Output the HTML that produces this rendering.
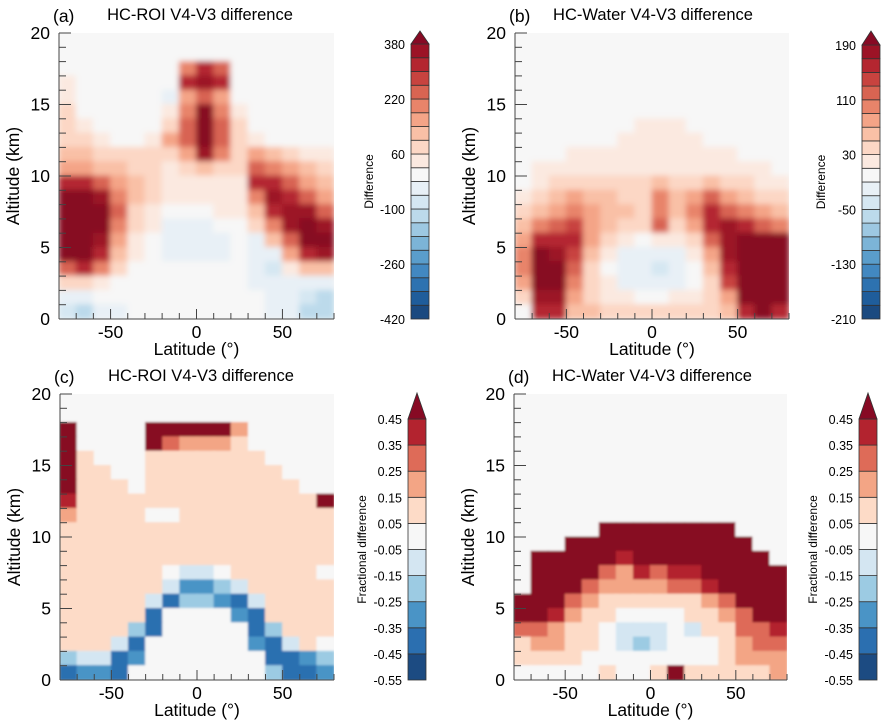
<!DOCTYPE html>
<html><head><meta charset="utf-8"><style>
html,body{margin:0;padding:0;background:#fff;}
svg{display:block;font-family:"Liberation Sans",sans-serif;}
</style></head><body>
<svg id="fig" width="889" height="727" viewBox="0 0 889 727" xmlns="http://www.w3.org/2000/svg">
<defs>
<filter id="soft" x="0" y="0" width="1" height="1"><feGaussianBlur stdDeviation="3"/></filter>
<filter id="soft2" x="0" y="0" width="1" height="1"><feGaussianBlur stdDeviation="1"/></filter>
</defs>
</svg>
<script>
// ---- data (rows: altitude 19.5 km at top down to 0.5 km; columns: latitude -75..75 step 10) ----
const latitudes=[-75,-65,-55,-45,-35,-25,-15,-5,5,15,25,35,45,55,65,75];
const altitudes=[19.5,18.5,17.5,16.5,15.5,14.5,13.5,12.5,11.5,10.5,9.5,8.5,7.5,6.5,5.5,4.5,3.5,2.5,1.5,0.5];
const xTicks=[-50,0,50];
const yTicks=[0,5,10,15,20];
const cbarTicksA=[380,220,60,-100,-260,-420];
const cbarTicksB=[190,110,30,-50,-130,-210];
const cbarTicksFrac=[0.45,0.35,0.25,0.15,0.05,-0.05,-0.15,-0.25,-0.35,-0.45,-0.55];
const valuesA=[
[0,0,0,0,0,0,0,0,0,0,0,0,0,0,0,0],
[0,0,0,0,0,0,0,0,0,0,0,0,0,0,0,0],
[0,0,0,0,0,0,0,200,300,250,0,0,0,0,0,0],
[40,0,0,0,0,0,0,300,350,300,0,0,0,0,0,0],
[40,0,0,0,0,0,-30,150,250,150,0,0,0,0,0,0],
[60,0,0,0,0,0,40,200,400,200,40,0,0,0,0,0],
[80,40,0,0,0,0,80,250,450,250,60,0,0,0,0,0],
[80,60,40,0,0,40,150,250,450,250,80,40,0,0,0,0],
[120,100,80,60,60,60,80,150,350,200,80,150,100,60,40,40],
[150,150,120,100,80,60,40,60,100,80,60,250,200,150,100,60],
[300,300,250,150,100,60,40,40,40,40,40,300,300,250,150,100],
[450,450,350,200,100,60,30,20,30,30,40,200,350,300,250,150],
[450,450,400,250,80,40,0,0,0,20,20,100,300,350,350,250],
[450,450,400,200,60,30,-30,-30,-30,0,0,60,200,350,400,350],
[450,450,350,150,40,0,-40,-40,-40,-30,-20,-30,100,250,400,400],
[400,450,300,100,20,0,-40,-40,-30,-30,-20,-40,-30,150,300,350],
[250,300,200,60,0,0,0,0,0,0,0,-40,-80,40,100,100],
[60,80,40,0,0,0,0,0,0,0,0,-30,-40,-30,-30,-40],
[-60,-40,-20,-20,-20,-20,-20,0,0,0,0,-20,-40,-60,-100,-120],
[-100,-120,-60,-30,0,0,0,0,0,0,0,-20,-40,-60,-120,-140]];
const valuesB=[
[0,0,0,0,0,0,0,0,0,0,0,0,0,0,0,0],
[0,0,0,0,0,0,0,0,0,0,0,0,0,0,0,0],
[0,0,0,0,0,0,0,0,0,0,0,0,0,0,0,0],
[0,0,0,0,0,0,0,0,0,0,0,0,0,0,0,0],
[0,0,0,0,0,0,0,0,0,0,0,0,0,0,0,0],
[0,0,0,0,0,0,0,0,0,0,0,0,0,0,0,0],
[0,0,0,0,0,0,0,15,15,15,0,0,0,0,0,0],
[0,0,0,0,0,0,15,15,15,15,15,0,0,0,0,0],
[0,0,0,15,15,15,15,15,15,15,15,15,15,0,0,0],
[0,15,15,20,20,20,20,20,20,20,20,20,20,20,15,0],
[0,20,30,40,30,30,30,30,50,30,40,50,40,30,20,15],
[20,40,50,70,50,50,40,40,90,50,80,110,70,50,40,30],
[40,60,80,100,70,60,50,40,100,60,100,150,120,90,70,60],
[60,100,110,130,80,50,30,30,110,40,80,150,170,150,120,100],
[80,150,150,150,70,30,10,0,20,10,40,110,180,200,200,200],
[100,200,180,130,60,10,-20,-20,-15,-15,10,70,170,200,200,200],
[100,200,200,120,40,0,-30,-30,-40,-30,0,50,150,200,200,200],
[80,200,200,100,30,10,-20,-20,-30,-20,0,40,130,200,200,200],
[40,180,180,80,40,20,10,0,0,10,10,30,80,200,200,200],
[0,150,150,60,60,40,40,40,30,30,30,40,60,150,200,150]];
const valuesC=[
[0,0,0,0,0,0,0,0,0,0,0,0,0,0,0,0],
[0,0,0,0,0,0,0,0,0,0,0,0,0,0,0,0],
[0.5,0,0,0,0,0.5,0.5,0.5,0.5,0.5,0.2,0,0,0,0,0],
[0.5,0,0,0,0,0.5,0.3,0.2,0.2,0.2,0.1,0,0,0,0,0],
[0.5,0.1,0,0,0,0.1,0.1,0.1,0.1,0.1,0.1,0.1,0,0,0,0],
[0.5,0.1,0.1,0,0,0.1,0.1,0.1,0.1,0.1,0.1,0.1,0.1,0,0,0],
[0.5,0.1,0.1,0.1,0,0.1,0.1,0.1,0.1,0.1,0.1,0.1,0.1,0.1,0,0],
[0.4,0.1,0.1,0.1,0.1,0.1,0.1,0.1,0.1,0.1,0.1,0.1,0.1,0.1,0.1,0.5],
[0.2,0.1,0.1,0.1,0.1,0,0,0.1,0.1,0.1,0.1,0.1,0.1,0.1,0.1,0.1],
[0.1,0.1,0.1,0.1,0.1,0.1,0.1,0.1,0.1,0.1,0.1,0.1,0.1,0.1,0.1,0.1],
[0.1,0.1,0.1,0.1,0.1,0.1,0.1,0.1,0.1,0.1,0.1,0.1,0.1,0.1,0.1,0.1],
[0.1,0.1,0.1,0.1,0.1,0.1,0.1,0.1,0.1,0.1,0.1,0.1,0.1,0.1,0.1,0.1],
[0.1,0.1,0.1,0.1,0.1,0.1,0,-0.1,-0.1,0,0.1,0.1,0.1,0.1,0.1,0],
[0.1,0.1,0.1,0.1,0.1,0.1,-0.1,-0.3,-0.3,-0.2,-0.1,0.1,0.1,0.1,0.1,0.1],
[0.1,0.1,0.1,0.1,0.1,-0.1,-0.4,-0.2,-0.2,-0.3,-0.4,-0.1,0.1,0.1,0.1,0.1],
[0.1,0.1,0.1,0.1,0.1,-0.4,0,0,0,0,-0.3,-0.4,0.1,0.1,0.1,0.1],
[0.1,0.1,0.1,0.1,-0.2,-0.4,0,0,0,0,0,-0.4,-0.2,0.1,0.1,0.1],
[0.1,0.1,0.1,-0.1,-0.4,0,0,0,0,0,0,-0.3,-0.4,-0.1,0.1,0],
[-0.2,-0.1,-0.1,-0.4,-0.3,0,0,0,0,0,0,0,-0.4,-0.4,-0.3,-0.2],
[-0.4,-0.3,-0.3,-0.4,0,0,0,0,0,0,0,0,-0.2,-0.4,-0.4,-0.3]];
const valuesD=[
[0,0,0,0,0,0,0,0,0,0,0,0,0,0,0,0],
[0,0,0,0,0,0,0,0,0,0,0,0,0,0,0,0],
[0,0,0,0,0,0,0,0,0,0,0,0,0,0,0,0],
[0,0,0,0,0,0,0,0,0,0,0,0,0,0,0,0],
[0,0,0,0,0,0,0,0,0,0,0,0,0,0,0,0],
[0,0,0,0,0,0,0,0,0,0,0,0,0,0,0,0],
[0,0,0,0,0,0,0,0,0,0,0,0,0,0,0,0],
[0,0,0,0,0,0,0,0,0,0,0,0,0,0,0,0],
[0,0,0,0,0,0,0,0,0,0,0,0,0,0,0,0],
[0,0,0,0,0,0.5,0.5,0.5,0.5,0.5,0.5,0.5,0.5,0,0,0],
[0,0,0,0.5,0.5,0.5,0.5,0.5,0.5,0.5,0.5,0.5,0.5,0.5,0,0],
[0,0.5,0.5,0.5,0.5,0.5,0.4,0.5,0.5,0.5,0.5,0.5,0.5,0.5,0.5,0],
[0,0.5,0.5,0.5,0.5,0.3,0.2,0.4,0.3,0.4,0.4,0.5,0.5,0.5,0.5,0.5],
[0,0.5,0.5,0.5,0.3,0.2,0.2,0.2,0.2,0.3,0.3,0.4,0.5,0.5,0.5,0.5],
[0.5,0.5,0.5,0.3,0.2,0.1,0.1,0.1,0.1,0.1,0.1,0.2,0.3,0.5,0.5,0.5],
[0.5,0.5,0.4,0.2,0.1,0.1,0,0,0,0,0.1,0.1,0.2,0.3,0.5,0.5],
[0.3,0.3,0.2,0.1,0.1,0,-0.1,-0.1,-0.1,0,-0.1,0.1,0.1,0.3,0.3,0.4],
[0.1,0.2,0.2,0.1,0.1,0,-0.1,-0.2,-0.1,0,0,0,0.1,0.2,0.3,0.3],
[0.1,0.1,0.1,0.1,0,0,0,0,0,0,0,0,0.1,0.2,0.2,0.2],
[0,0,0,0,0,0.1,0,0,0.1,0.5,0.1,0.1,0.1,0.1,0.1,0.2]];

// ---- palettes ----
const pal20=["#1b4a80","#1f5d9b","#2d72b0","#4288c1","#5a9dcb","#7cb4d7","#9dc8e2","#bcdaeb","#d5e7f2","#e8f0f6",
             "#f7f7f7","#fbe9e0","#fcd7c5","#f9c0a6","#f4a487","#e8846a","#d86452","#c8433f","#b42630","#9c1326"];
const pal10=["#1c4b82","#2b6fb0","#4a94c6","#9ccbe3","#d4e6f2","#f7f7f7","#fddbc7","#f3a585","#de6b58","#b3232f"];
const overColor="#870a24";
const NS="http://www.w3.org/2000/svg";
const svg=document.getElementById('fig');
function el(tag,attrs,parent){const e=document.createElementNS(NS,tag);for(const k in attrs)e.setAttribute(k,attrs[k]);(parent||svg).appendChild(e);return e;}
function txt(s,attrs,parent){const e=el('text',attrs,parent);e.textContent=s;return e;}

function colorFor(v,min,step,pal){
  const i=Math.floor((v-min)/step+1e-9);
  if(i>=pal.length) return overColor;
  if(i<0) return pal[0];
  return pal[i];
}

function drawPanel(cfg){
  const g=el('g',{});
  
  
  const {L,R,T,B}=cfg;
  const xs=lat=>L+(lat+80)/160*(R-L);
  const ys=alt=>B-alt/20*(B-T);
  const clipId='clip-'+cfg.name;
  const cp=el('clipPath',{id:clipId},g);
  el('rect',{x:L,y:T,width:R-L,height:B-T},cp);
  const bg=el('rect',{x:L,y:T,width:R-L,height:B-T,fill:'#f7f7f7'},g);
  
  
  const hg=el('g',{'clip-path':'url(#'+clipId+')'},g);
  const inner=el('g',{filter:cfg.blur},hg);
  
  
  cfg.data.forEach((row,ri)=>{
    row.forEach((v,ci)=>{
      const x0=xs(latitudes[ci]-5),x1=xs(latitudes[ci]+5);
      const y0=ys(altitudes[ri]+0.5),y1=ys(altitudes[ri]-0.5);
      const c=colorFor(v,cfg.cmin,cfg.cstep,cfg.pal);
      const r=el('rect',{x:x0-0.5,y:y0-0.5,width:x1-x0+1,height:y1-y0+1,fill:c},inner);
      
      
    });
  });
  const ax=el('g',{stroke:'#444','stroke-width':1,fill:'none'},g);
  
  
  el('line',{x1:L,y1:T,x2:L,y2:B},ax);
  el('line',{x1:L,y1:B,x2:R,y2:B},ax);
  for(let a=0;a<=20;a++){const y=ys(a);el('line',{x1:L,y1:y,x2:L+(a%5===0?12:7),y2:y},ax);}
  for(let lat=-80;lat<=80;lat+=10){const x=xs(lat);el('line',{x1:x,y1:B,x2:x,y2:B-(lat%50===0?10:6)},ax);}
  yTicks.forEach(t=>{const e=txt(String(t),{x:L-9,y:ys(t)+6,'font-size':17.5,'text-anchor':'end',fill:'#000'},g);
    });
  xTicks.forEach(t=>{const e=txt(String(t),{x:xs(t),y:B+19,'font-size':17.5,'text-anchor':'middle',fill:'#000'},g);
    });
  const xt=txt('Latitude (°)',{x:(L+R)/2,y:B+36,'font-size':17.5,'text-anchor':'middle'},g);
  
  const yt=txt('Altitude (km)',{x:0,y:0,'font-size':17.5,'text-anchor':'middle',transform:`translate(${L-40},${(T+B)/2}) rotate(-90)`},g);
  
  const pl=txt(cfg.letter,{x:L-6,y:T-11,'font-size':17.5},g);
  
  const ti=txt(cfg.title,{x:cfg.titleX,y:T-13,'font-size':16.5,'text-anchor':'middle'},g);
  
  const cb=el('g',{},g);
  
  
  const {cx0,cx1,cTop,cBot,cTip}=cfg;
  const n=cfg.pal.length, h=(cBot-cTop)/n;
  for(let i=0;i<n;i++){
    const r=el('rect',{x:cx0,y:cBot-(i+1)*h,width:cx1-cx0,height:h,fill:cfg.pal[i],stroke:'#333','stroke-width':0.8},cb);
    
  }
  const tri=el('polygon',{points:`${cx0},${cTop} ${cx1},${cTop} ${(cx0+cx1)/2},${cTip}`,fill:overColor,stroke:'#333','stroke-width':0.8},cb);
  
  const ticks=cfg.cticks, span=ticks[0]-ticks[ticks.length-1];
  ticks.forEach(t=>{
    const y=cBot-(t-ticks[ticks.length-1])/span*(cBot-cTop);
    const e=txt(String(t),{x:cx0-6,y:y+5,'font-size':cfg.cfs,'text-anchor':'end'},cb);
    
  });
  const ct=txt(cfg.clabel,{x:0,y:0,'font-size':12,'text-anchor':'middle',transform:`translate(${cfg.clx},${(cTop+cBot)/2}) rotate(-90)`},cb);
  
}

drawPanel({name:'panel-a',letter:'(a)',title:'HC-ROI V4-V3 difference',titleX:200,L:59,R:334,T:33,B:319,data:valuesA,
  cmin:-420,cstep:40,pal:pal20,blur:'url(#soft)',cx0:411,cx1:429,cTop:44,cBot:319,cTip:31,cticks:cbarTicksA,cfs:12.5,clabel:'Difference',clx:373});
drawPanel({name:'panel-b',letter:'(b)',title:'HC-Water V4-V3 difference',titleX:653,L:515,R:789,T:33,B:319,data:valuesB,
  cmin:-210,cstep:20,pal:pal20,blur:'url(#soft)',cx0:862,cx1:880,cTop:45,cBot:319,cTip:31,cticks:cbarTicksB,cfs:12.5,clabel:'Difference',clx:825});
drawPanel({name:'panel-c',letter:'(c)',title:'HC-ROI V4-V3 difference',titleX:201,L:60,R:334,T:394,B:680,data:valuesC,
  cmin:-0.55,cstep:0.1,pal:pal10,blur:'url(#soft2)',cx0:408,cx1:426,cTop:419,cBot:680,cTip:393,cticks:cbarTicksFrac,cfs:12.5,clabel:'Fractional difference',clx:366});
drawPanel({name:'panel-d',letter:'(d)',title:'HC-Water V4-V3 difference',titleX:652,L:514,R:787,T:394,B:680,data:valuesD,
  cmin:-0.55,cstep:0.1,pal:pal10,blur:'url(#soft2)',cx0:859,cx1:877,cTop:419,cBot:680,cTip:393,cticks:cbarTicksFrac,cfs:12.5,clabel:'Fractional difference',clx:817});
</script>
</body></html>
